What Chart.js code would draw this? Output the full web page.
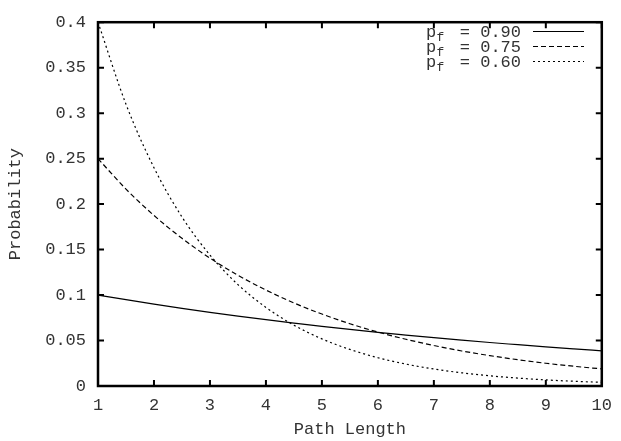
<!DOCTYPE html>
<html>
<head>
<meta charset="utf-8">
<script src="https://cdn.jsdelivr.net/npm/chart.js@4/dist/chart.umd.min.js"></script>
<style>
  html, body { margin: 0; padding: 0; background: #fff; }
  canvas { display: block; }
</style>
</head>
<body>
<canvas id="c" width="621" height="441"></canvas>
<script>
const pathLength = [1,1.5,2,2.5,3,3.5,4,4.5,5,5.5,6,6.5,7,7.5,8,8.5,9,9.5,10];
const prob090 = [0.1,0.0949,0.09,0.0854,0.081,0.0768,0.0729,0.0692,0.0656,0.0623,0.059,0.056,0.0531,0.0504,0.0478,0.0454,0.043,0.0408,0.0387];
const prob075 = [0.25,0.2165,0.1875,0.1624,0.1406,0.1218,0.1055,0.0913,0.0791,0.0685,0.0593,0.0514,0.0445,0.0385,0.0334,0.0289,0.025,0.0217,0.0188];
const prob060 = [0.4,0.3098,0.24,0.1859,0.144,0.1115,0.0864,0.0669,0.0518,0.0402,0.0311,0.0241,0.0187,0.0145,0.0112,0.0087,0.0067,0.0052,0.004];
const seriesLabels = ["0.90", "0.75", "0.60"];
const xTicks = [1,2,3,4,5,6,7,8,9,10];
const yTicks = [0,0.05,0.1,0.15,0.2,0.25,0.3,0.35,0.4];

const FONT = "'Liberation Mono', 'Courier New', monospace";
const TEXT = '#333';
const dashes = [[], [5, 3], [2, 3]];

function pts(ys) { return pathLength.map((x, i) => ({x: x, y: ys[i]})); }

const framePlugin = {
  id: 'frame',
  afterDraw(chart) {
    const ctx = chart.ctx, a = chart.chartArea;
    const sx = chart.scales.x, sy = chart.scales.y;
    ctx.save();
    ctx.strokeStyle = '#000';
    ctx.lineWidth = 2.5;
    ctx.setLineDash([]);
    ctx.strokeRect(a.left, a.top, a.right - a.left, a.bottom - a.top);
    ctx.lineWidth = 2;
    const L = 6;
    ctx.beginPath();
    xTicks.forEach(v => {
      const px = sx.getPixelForValue(v);
      ctx.moveTo(px, a.bottom); ctx.lineTo(px, a.bottom - L);
      ctx.moveTo(px, a.top); ctx.lineTo(px, a.top + L);
    });
    yTicks.forEach(v => {
      const py = sy.getPixelForValue(v);
      ctx.moveTo(a.left, py); ctx.lineTo(a.left + L, py);
      ctx.moveTo(a.right, py); ctx.lineTo(a.right - L, py);
    });
    ctx.stroke();

    // key
    const rows = [31.5, 46.5, 61.5];
    chart.data.datasets.forEach((ds, i) => {
      const cy = rows[i];
      const base = cy + 5.5;
      ctx.fillStyle = TEXT;
      ctx.textBaseline = 'alphabetic';
      ctx.font = '17px ' + FONT;
      ctx.textAlign = 'left';
      ctx.fillText('p', 426, base);
      ctx.font = '13px ' + FONT;
      ctx.fillText('f', 436.5, base + 3.5);
      ctx.font = '17px ' + FONT;
      ctx.textAlign = 'right';
      ctx.fillText('= ' + seriesLabels[i], 521, base);
      ctx.strokeStyle = '#000';
      ctx.lineWidth = 1.2;
      ctx.setLineDash(dashes[i]);
      ctx.beginPath();
      ctx.moveTo(533, cy); ctx.lineTo(584, cy);
      ctx.stroke();
    });
    ctx.restore();
  }
};

new Chart(document.getElementById('c'), {
  type: 'line',
  data: {
    datasets: [
      { label: 'p_f = ' + seriesLabels[0], data: pts(prob090), borderDash: dashes[0] },
      { label: 'p_f = ' + seriesLabels[1], data: pts(prob075), borderDash: dashes[1] },
      { label: 'p_f = ' + seriesLabels[2], data: pts(prob060), borderDash: dashes[2] }
    ].map(d => Object.assign(d, {
      borderColor: '#000', borderWidth: 1.2, pointRadius: 0, fill: false,
      cubicInterpolationMode: 'monotone'
    }))
  },
  options: {
    responsive: false,
    animation: false,
    events: [],
    layout: { padding: { left: 0, top: 13, right: 16, bottom: 0 } },
    plugins: { legend: { display: false }, tooltip: { enabled: false } },
    scales: {
      x: {
        type: 'linear', min: 1, max: 10,
        afterFit(s) { s.height = 55; },
        afterBuildTicks(s) { s.ticks = xTicks.map(v => ({value: v})); },
        grid: { display: false, drawTicks: false },
        border: { display: false },
        ticks: { font: { family: FONT, size: 17 }, color: TEXT, padding: 9, maxRotation: 0, autoSkip: false },
        title: { display: true, text: 'Path Length', font: { family: FONT, size: 17 }, color: TEXT, padding: { top: 0, bottom: 1 } }
      },
      y: {
        type: 'linear', min: 0, max: 0.4,
        afterFit(s) { s.width = 98; },
        afterBuildTicks(s) { s.ticks = yTicks.map(v => ({value: v})); },
        grid: { display: false, drawTicks: false },
        border: { display: false },
        ticks: { font: { family: FONT, size: 17 }, color: TEXT, padding: 12,
                 callback: v => String(parseFloat(Number(v).toFixed(2))) },
        title: { display: true, text: 'Probability', font: { family: FONT, size: 17 }, color: TEXT, padding: { top: 5, bottom: 0 } }
      }
    }
  },
  plugins: [framePlugin]
});
</script>
</body>
</html>
